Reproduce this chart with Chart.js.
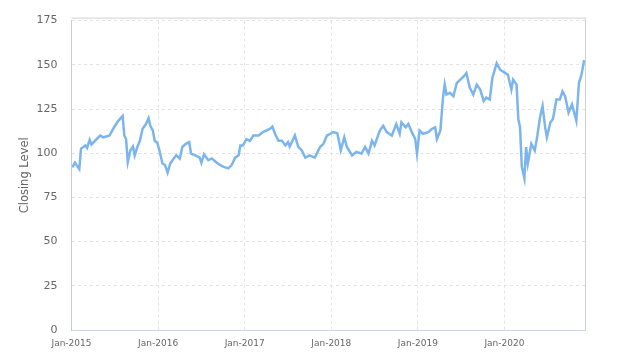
<!DOCTYPE html>
<html>
<head>
<meta charset="utf-8">
<script src="https://cdn.jsdelivr.net/npm/chart.js@4/dist/chart.umd.min.js"></script>
<style>
  body { margin: 0; background: #fff; }
  #wrap { width: 624px; height: 362px; }
</style>
</head>
<body>
<div id="wrap"><canvas id="grafico" width="624" height="362"></canvas></div>
<script>
// time as decimal year
const years = [
  2015.01, 2015.04, 2015.09, 2015.11, 2015.16, 2015.18, 2015.21, 2015.23, 2015.33, 2015.37,
  2015.44, 2015.48, 2015.54, 2015.59, 2015.61, 2015.63, 2015.65, 2015.68, 2015.71, 2015.73,
  2015.76, 2015.79, 2015.82, 2015.86, 2015.89, 2015.91, 2015.94, 2015.96, 2015.99, 2016.02,
  2016.05, 2016.08, 2016.11, 2016.14, 2016.18, 2016.21, 2016.25, 2016.28, 2016.32, 2016.36,
  2016.38, 2016.43, 2016.48, 2016.50, 2016.53, 2016.58, 2016.62, 2016.70, 2016.75, 2016.81,
  2016.85, 2016.89, 2016.93, 2016.95, 2016.98, 2017.02, 2017.06, 2017.10, 2017.16, 2017.21,
  2017.29, 2017.32, 2017.35, 2017.39, 2017.43, 2017.47, 2017.50, 2017.52, 2017.58, 2017.62,
  2017.66, 2017.70, 2017.75, 2017.81, 2017.87, 2017.91, 2017.95, 2017.99, 2018.02, 2018.07,
  2018.11, 2018.15, 2018.18, 2018.24, 2018.29, 2018.35, 2018.39, 2018.43, 2018.47, 2018.50,
  2018.56, 2018.60, 2018.64, 2018.70, 2018.75, 2018.79, 2018.81, 2018.86, 2018.89, 2018.93,
  2018.97, 2018.99, 2019.02, 2019.06, 2019.12, 2019.16, 2019.20, 2019.22, 2019.26, 2019.29,
  2019.31, 2019.33, 2019.37, 2019.41, 2019.45, 2019.49, 2019.53, 2019.56, 2019.60, 2019.64,
  2019.68, 2019.72, 2019.76, 2019.79, 2019.83, 2019.86, 2019.91, 2019.95, 2020.01, 2020.04,
  2020.08, 2020.10, 2020.14, 2020.16, 2020.18, 2020.20, 2020.23, 2020.25, 2020.27, 2020.31,
  2020.35, 2020.38, 2020.41, 2020.44, 2020.47, 2020.49, 2020.53, 2020.56, 2020.60, 2020.64,
  2020.67, 2020.70, 2020.74, 2020.78, 2020.81, 2020.83, 2020.86, 2020.89, 2020.92
];

const closing = [
  92, 94.7, 91, 102.6, 104.4, 103, 107.6, 105, 110, 109,
  110, 113.7, 118.3, 121, 110, 108, 95, 101.6, 103.8, 98.8,
  103.5, 107, 113.7, 116.5, 119.8, 115.5, 112.8, 107, 106, 100.7,
  94.2, 93.3, 89, 94.2, 97, 98.8, 97, 103.5, 105.3, 106.3,
  99.8, 98.8, 97.5, 94.6, 99.4, 96, 97, 93.8, 92.4, 91.4,
  93.3, 97.5, 98.8, 104.4, 104.4, 108, 107, 110, 110, 111.9,
  113.7, 115, 111, 107, 107, 104.4, 106.3, 103.8, 110, 103.5,
  101.6, 97.5, 98.8, 97.5, 103.5, 105.3, 110, 111, 111.9, 111.3,
  101.6, 109, 103.5, 98.8, 100.7, 99.8, 103.5, 99.8, 107, 104.4,
  112.8, 115.5, 111.9, 110, 116.5, 111, 117.4, 114.6, 116.5, 111.9,
  108, 99.8, 112.8, 111, 111.9, 113.7, 114.6, 108, 112.8, 131.4,
  138.8, 133.2, 134.2, 132.3, 139.7, 141.6, 143.4, 145.3, 137, 133.2,
  138.8, 136, 129.5, 131.4, 130.4, 142.5, 150.9, 147.2, 145.3, 144.4,
  136, 141.6, 138.8, 119.3, 114.6, 92.4, 85.8, 103.5, 94.2, 105.3,
  101.6, 110, 120.2, 126.7, 114.6, 109, 117.4, 119.3, 130.4, 130.4,
  135, 132.3, 123, 127.6, 122, 118.3, 139.7, 144.4, 152.7
];

const tickYears = [2015, 2016, 2017, 2018, 2019, 2020];
const tickLabels = ["Jan-2015", "Jan-2016", "Jan-2017", "Jan-2018", "Jan-2019", "Jan-2020"];
const yTicks = [0, 25, 50, 75, 100, 125, 150, 175];

const pontos = years.map((t, i) => ({ x: t, y: closing[i] }));

// frame on top and right of the plot
const moldura = {
  id: 'moldura',
  beforeDatasetsDraw(chart) {
    const { ctx, chartArea: a } = chart;
    ctx.save();
    ctx.strokeStyle = '#d0d0d0';
    ctx.lineWidth = 1;
    ctx.beginPath();
    ctx.moveTo(a.left, a.top - 2.5);
    ctx.lineTo(a.right + 0.5, a.top - 2.5);
    ctx.lineTo(a.right + 0.5, a.bottom);
    ctx.stroke();
    ctx.restore();
  }
};

const ctx = document.getElementById('grafico').getContext('2d');
new Chart(ctx, {
  type: 'line',
  data: {
    datasets: [{
      data: pontos,
      borderColor: '#7cb5ec',
      borderWidth: 2.5,
      pointRadius: 0,
      tension: 0,
      fill: false
    }]
  },
  options: {
    responsive: false,
    animation: false,
    layout: { padding: { left: 14, top: 14, right: 39, bottom: 0 } },
    plugins: { legend: { display: false }, tooltip: { enabled: false } },
    scales: {
      x: {
        type: 'linear',
        min: 2015,
        max: 2020.93,
        afterBuildTicks: (s) => { s.ticks = tickYears.map(v => ({ value: v })); },
        afterFit: (s) => { s.height = 32; },
        ticks: {
          color: '#666',
          font: { family: 'DejaVu Sans', size: 9 },
          padding: 8,
          maxRotation: 0,
          callback: (v) => tickLabels[tickYears.indexOf(v)]
        },
        grid: { color: '#e3e3e3', drawTicks: false },
        border: { display: true, color: '#ccd6eb', dash: [3, 3] }
      },
      y: {
        min: 0,
        max: 175,
        afterBuildTicks: (s) => { s.ticks = yTicks.map(v => ({ value: v })); },
        afterFit: (s) => { s.width = 57.5; },
        ticks: {
          color: '#666',
          font: { family: 'DejaVu Sans', size: 11 },
          padding: 14
        },
        grid: { color: '#e3e3e3', drawTicks: false },
        border: { display: true, color: '#cccccc', dash: [3, 3] },
        title: {
          display: true,
          text: 'Closing Level',
          color: '#666',
          font: { family: 'DejaVu Sans', size: 11.5 },
          padding: { top: 4, bottom: 4 }
        }
      }
    }
  },
  plugins: [moldura]
});
</script>
</body>
</html>
